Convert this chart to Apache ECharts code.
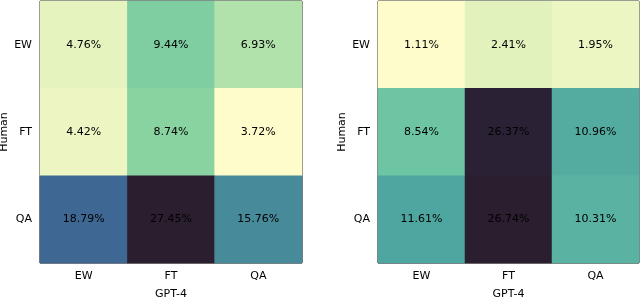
<!DOCTYPE html>
<html><head><meta charset="utf-8">
<script src="https://cdn.jsdelivr.net/npm/echarts@6/dist/echarts.min.js"></script>
<style>html,body{margin:0;padding:0;background:#fff}#c{width:640px;height:297px}</style>
</head><body><div id="c"></div>
<script>
const xCats = ['EW','FT','QA'];
const yCats = ['EW','FT','QA'];
const xName = 'GPT-4';
const yName = 'Human';
// rows = Human (y), cols = GPT-4 (x)
const leftValues = [
  [4.76, 9.44, 6.93],
  [4.42, 8.74, 3.72],
  [18.79, 27.45, 15.76]
];
const rightValues = [
  [1.11, 2.41, 1.95],
  [8.54, 26.37, 10.96],
  [11.61, 26.74, 10.31]
];
const cmap = ['#fefccb','#c4e9b0','#8dd5a1','#69c3a4','#50a8a0','#488c9a','#3f7095','#3d5890','#3a4480','#33305a','#2a1e2f'];

function toData(m){const d=[];m.forEach((row,r)=>row.forEach((v,c)=>d.push([c,r,v])));return d;}
function mn(m){return Math.min(...m.flat());}
function mx(m){return Math.max(...m.flat());}

const font = 'DejaVu Sans';
function axes(i){
  return {
    x:{type:'category',data:xCats,gridIndex:i,name:xName,nameLocation:'middle',nameGap:26,
       nameTextStyle:{fontFamily:font,fontSize:11,color:'#000'},
       axisLine:{show:false},axisTick:{alignWithLabel:true,length:4,lineStyle:{color:'#000'}},
       axisLabel:{fontFamily:font,fontSize:11,color:'#000',margin:8},splitLine:{show:false},splitArea:{show:false}},
    y:{type:'category',data:yCats,gridIndex:i,inverse:true,name:yName,nameLocation:'middle',nameGap:30,nameRotate:90,
       nameTextStyle:{fontFamily:font,fontSize:11,color:'#000'},
       axisLine:{show:false},axisTick:{alignWithLabel:true,length:4,lineStyle:{color:'#000'}},
       axisLabel:{fontFamily:font,fontSize:11,color:'#000',margin:8},splitLine:{show:false},splitArea:{show:false}}
  };
}
const a0=axes(0), a1=axes(1);
const chart = echarts.init(document.getElementById('c'),null,{renderer:'canvas'});
chart.setOption({
  animation:false,
  grid:[
    {left:40,top:1,width:262,height:262,show:true,borderColor:'#000',borderWidth:1,backgroundColor:'transparent',outerBoundsMode:'none',containLabel:false},
    {left:378,top:1,width:261,height:262,show:true,borderColor:'#000',borderWidth:1,backgroundColor:'transparent',outerBoundsMode:'none',containLabel:false}
  ],
  xAxis:[a0.x,a1.x],
  yAxis:[a0.y,a1.y],
  visualMap:[
    {show:false,seriesIndex:0,min:mn(leftValues),max:mx(leftValues),dimension:2,inRange:{color:cmap}},
    {show:false,seriesIndex:1,min:mn(rightValues),max:mx(rightValues),dimension:2,inRange:{color:cmap}}
  ],
  series:[0,1].map(i=>({
    type:'heatmap',xAxisIndex:i,yAxisIndex:i,
    data:toData(i===0?leftValues:rightValues),
    label:{show:true,fontFamily:font,fontSize:11,color:'#000',formatter:p=>p.value[2].toFixed(2)+'%'},
    itemStyle:{borderWidth:0},
    emphasis:{disabled:true}
  }))
});
</script></body></html>
